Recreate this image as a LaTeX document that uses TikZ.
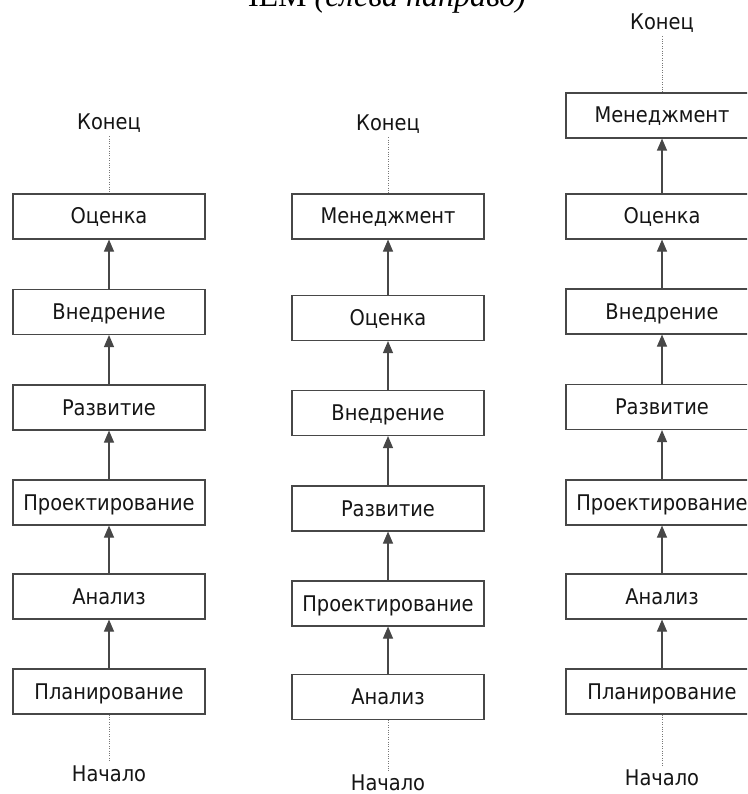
\documentclass[tikz,border=0pt]{standalone}
\usepackage{fontspec}
\setmainfont{DejaVu Sans Condensed}
\newfontfamily\titlefont{Liberation Serif}
\usetikzlibrary{arrows.meta}
\definecolor{linegray}{HTML}{474747}
\definecolor{txt}{HTML}{151515}
\definecolor{dotgray}{HTML}{777777}
\begin{document}
\begin{tikzpicture}[x=1pt,y=-1pt,
  stagebox/.style={draw=linegray, line width=1.1pt, minimum width=192pt, minimum height=45pt,
    inner sep=0pt, text height=15pt, text depth=0pt, text=txt, font=\fontsize{21.6}{25}\selectfont},
  endlabel/.style={anchor=base, inner sep=3pt, text=txt, font=\fontsize{21.6}{25}\selectfont},
  arr/.style={draw=linegray, line width=1.1pt, -{Triangle[width=10pt,length=12pt]}},
  dotline/.style={draw=dotgray, line width=0.8pt, dash pattern=on 0.8pt off 1.6pt}]
\useasboundingbox (0,0) rectangle (747,794);
\clip (0,0) rectangle (747,794);
\fill[white] (0,0) rectangle (747,794);

% title (cut off at top, as in the reference)
\node[anchor=base, inner sep=0pt, text=black, font=\titlefont\fontsize{32}{36}\selectfont] (title) at (382,7) {ЧЕМ \textit{(слева направо)}};

% column 1
\node[endlabel] (k1) at (109,130) {Конец};
\node[stagebox] (a1) at (109,216.5) {Оценка};
\node[stagebox] (a2) at (109,312) {Внедрение};
\node[stagebox] (a3) at (109,407.5) {Развитие};
\node[stagebox] (a4) at (109,502.5) {Проектирование};
\node[stagebox] (a5) at (109,596.5) {Анализ};
\node[stagebox] (a6) at (109,691.5) {Планирование};
\node[endlabel] (n1) at (109,781) {Начало};
\draw[dotline] (k1.south) -- (a1.north);
\draw[arr] (a2.north) -- (a1.south);
\draw[arr] (a3.north) -- (a2.south);
\draw[arr] (a4.north) -- (a3.south);
\draw[arr] (a5.north) -- (a4.south);
\draw[arr] (a6.north) -- (a5.south);
\draw[dotline] (a6.south) -- (n1.north);

% column 2
\node[endlabel] (k2) at (388,131) {Конец};
\node[stagebox] (b1) at (388,216.5) {Менеджмент};
\node[stagebox] (b2) at (388,318) {Оценка};
\node[stagebox] (b3) at (388,413) {Внедрение};
\node[stagebox] (b4) at (388,508.5) {Развитие};
\node[stagebox] (b5) at (388,603.5) {Проектирование};
\node[stagebox] (b6) at (388,697) {Анализ};
\node[endlabel] (n2) at (388,790) {Начало};
\draw[dotline] (k2.south) -- (b1.north);
\draw[arr] (b2.north) -- (b1.south);
\draw[arr] (b3.north) -- (b2.south);
\draw[arr] (b4.north) -- (b3.south);
\draw[arr] (b5.north) -- (b4.south);
\draw[arr] (b6.north) -- (b5.south);
\draw[dotline] (b6.south) -- (n2.north);

% column 3
\node[endlabel] (k3) at (662,30) {Конец};
\node[stagebox] (c0) at (662,115.5) {Менеджмент};
\node[stagebox] (c1) at (662,216.5) {Оценка};
\node[stagebox] (c2) at (662,311.5) {Внедрение};
\node[stagebox] (c3) at (662,407) {Развитие};
\node[stagebox] (c4) at (662,502.5) {Проектирование};
\node[stagebox] (c5) at (662,596.5) {Анализ};
\node[stagebox] (c6) at (662,691.5) {Планирование};
\node[endlabel] (n3) at (662,785) {Начало};
\draw[dotline] (k3.south) -- (c0.north);
\draw[arr] (c1.north) -- (c0.south);
\draw[arr] (c2.north) -- (c1.south);
\draw[arr] (c3.north) -- (c2.south);
\draw[arr] (c4.north) -- (c3.south);
\draw[arr] (c5.north) -- (c4.south);
\draw[arr] (c6.north) -- (c5.south);
\draw[dotline] (c6.south) -- (n3.north);
\end{tikzpicture}
\end{document}
